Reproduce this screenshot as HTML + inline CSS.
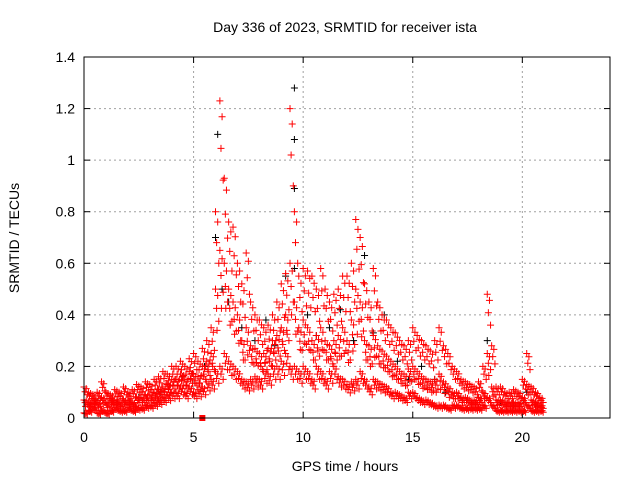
<!DOCTYPE html>
<html><head><meta charset="utf-8"><style>
body{margin:0;background:#fff;}
svg{display:block;font-family:"Liberation Sans",sans-serif;}
</style></head><body>
<svg id="chart" width="640" height="480" viewBox="0 0 640 480">
<text x="345" y="32" font-size="14" text-anchor="middle">Day 336 of 2023, SRMTID for receiver ista</text>
<text x="345" y="471" font-size="14" text-anchor="middle">GPS time / hours</text>
<text transform="translate(19,238) rotate(-90)" font-size="14" text-anchor="middle">SRMTID / TECUs</text>
<g id="grid"></g><g id="ticks"></g><g id="marks"></g>
<rect x="84" y="57" width="526" height="361" fill="none" stroke="#000" stroke-width="1"/>
</svg>
<script>
const xTicks=[0,5,10,15,20];
const yTicks=[0,0.2,0.4,0.6,0.8,1,1.2,1.4];
const yTickLabels=["0","0.2","0.4","0.6","0.8","1","1.2","1.4"];
const redStep=0.2;
const redHi=[0.12,0.1,0.09,0.1,0.14,0.1,0.09,0.11,0.1,0.12,0.1,0.11,0.13,
0.12,0.14,0.13,0.15,0.16,0.18,0.17,0.2,
0.2,0.22,0.2,0.23,0.25,0.22,0.27,0.3,0.35,
0.8,1.23,0.93,0.76,0.74,0.6,
0.52,0.64,0.45,0.4,0.38,0.35,0.36,0.4,0.45,
0.52,0.56,1.2,0.8,0.55,
0.58,0.57,0.55,0.5,0.58,0.5,0.45,0.48,0.5,0.55,
0.55,0.6,0.77,0.7,0.52,0.45,0.58,0.45,0.4,0.38,
0.35,0.33,0.3,0.28,0.3,0.35,0.32,0.3,0.28,0.26,
0.3,0.35,0.28,0.25,0.2,0.18,0.15,0.14,0.13,0.12,
0.14,0.2,0.48,0.28,0.12,0.12,0.1,0.1,0.11,0.1,
0.15,0.25,0.12,0.1,0.08];
const redMid=[0.07,0.06,0.07,0.06,0.08,0.06,0.07,0.07,0.06,0.07,0.07,0.06,0.08,
0.08,0.09,0.09,0.1,0.11,0.12,0.13,0.15,
0.15,0.17,0.15,0.18,0.17,0.16,0.2,0.22,0.25,
0.5,0.65,0.6,0.5,0.45,0.4,
0.3,0.35,0.28,0.27,0.25,0.25,0.27,0.3,0.32,
0.35,0.4,0.6,0.45,0.35,
0.38,0.35,0.3,0.32,0.35,0.3,0.28,0.3,0.32,0.35,
0.3,0.38,0.5,0.45,0.3,0.28,0.32,0.28,0.26,0.24,
0.22,0.2,0.18,0.17,0.19,0.2,0.18,0.16,0.15,0.14,
0.15,0.17,0.14,0.12,0.1,0.1,0.08,0.08,0.07,0.07,
0.08,0.1,0.25,0.12,0.07,0.07,0.06,0.06,0.06,0.06,
0.08,0.13,0.07,0.06,0.05];
const redLo=[0.02,0.03,0.04,0.02,0.03,0.02,0.03,0.04,0.03,0.03,0.04,0.03,0.04,
0.04,0.05,0.05,0.06,0.07,0.08,0.09,0.1,
0.1,0.12,0.1,0.12,0.1,0.11,0.12,0.14,0.15,
0.18,0.2,0.25,0.22,0.2,0.18,
0.15,0.14,0.15,0.16,0.15,0.18,0.17,0.2,0.2,
0.22,0.25,0.2,0.2,0.18,
0.2,0.18,0.15,0.2,0.18,0.15,0.18,0.2,0.16,0.15,
0.13,0.14,0.15,0.18,0.15,0.12,0.15,0.14,0.13,0.12,
0.1,0.1,0.09,0.08,0.1,0.1,0.08,0.07,0.07,0.06,
0.05,0.05,0.05,0.04,0.05,0.05,0.04,0.04,0.04,0.04,
0.04,0.05,0.08,0.05,0.03,0.03,0.03,0.03,0.03,0.03,
0.03,0.05,0.03,0.03,0.03];
const blackT=[0.5,1.5,2.5,3.5,4.5,5.5,6.0,6.1,6.3,6.6,7.2,7.8,8.3,8.7,9.2,9.6,9.6,9.6,9.6,10.2,10.6,11.2,11.7,12.3,12.8,13.2,13.7,14.3,14.8,15.4,16.0,16.5,17.2,18.0,18.4,19.0,19.6,20.2,20.6];
const blackV=[0.07,0.06,0.08,0.1,0.16,0.2,0.7,1.1,0.5,0.45,0.35,0.3,0.38,0.28,0.55,1.28,1.08,0.89,0.58,0.4,0.32,0.35,0.42,0.3,0.63,0.33,0.4,0.22,0.15,0.2,0.15,0.1,0.08,0.08,0.3,0.06,0.05,0.1,0.05];
const NS="http://www.w3.org/2000/svg";
const X0=84,X1=610,Y0=418,Y1=57;
function xs(v){return X0+(v/24)*(X1-X0);}
function ys(v){return Y0-(v/1.4)*(Y0-Y1);}
function mk(tag,attrs,parent){const e=document.createElementNS(NS,tag);for(const k in attrs)e.setAttribute(k,attrs[k]);parent.appendChild(e);return e;}
const grid=document.getElementById('grid'),ticks=document.getElementById('ticks'),marks=document.getElementById('marks');
yTicks.forEach((v,i)=>{
 const y=ys(v);
 if(i>0&&i<yTicks.length-1){const g=mk('line',{x1:X0,x2:X1,y1:y,y2:y,stroke:'#a0a0a0','stroke-dasharray':'2,3'},grid);
 
 }
 mk('line',{x1:X0,x2:X0+6,y1:y,y2:y,stroke:'#000'},ticks);
 mk('line',{x1:X1,x2:X1-6,y1:y,y2:y,stroke:'#000'},ticks);
 const t=mk('text',{x:X0-9,y:y+5,'font-size':14,'text-anchor':'end'},ticks);t.textContent=yTickLabels[i];
 
 
});
xTicks.forEach(v=>{
 const x=xs(v);
 if(v>0){const g=mk('line',{x1:x,x2:x,y1:Y0,y2:Y1,stroke:'#a0a0a0','stroke-dasharray':'2,3'},grid);
 
 }
 mk('line',{x1:x,x2:x,y1:Y0,y2:Y0-6,stroke:'#000'},ticks);
 mk('line',{x1:x,x2:x,y1:Y1,y2:Y1+6,stroke:'#000'},ticks);
 const t=mk('text',{x:x,y:Y0+24,'font-size':14,'text-anchor':'middle'},ticks);t.textContent=String(v);
 
 
});
function plus(t,v,c,name){
 const x=xs(t),y=ys(v);
 const p=mk('path',{d:`M${x-3.5},${y}h7M${x},${y-3.5}v7`,stroke:c,'stroke-width':1,fill:'none'},marks);
 
 
}
blackT.forEach((t,i)=>plus(t,blackV[i],'#000','black-point'));
const offs=[0,0.05,0.1,0.15],mult=[1,0.85,0.95,0.75];
[redLo,redMid,redHi].forEach(arr=>arr.forEach((v,i)=>{offs.forEach((o,k)=>plus(i*redStep+o,v*mult[k],'#f00','red-point'));}));
redMid.forEach((v,i)=>plus(i*redStep+0.07,(v+redLo[i])/2,'#f00','red-point'));
const sq=mk('rect',{x:xs(5.4)-3,y:Y0-3,width:6,height:6,fill:'#f00'},marks);


</script>
</body></html>
